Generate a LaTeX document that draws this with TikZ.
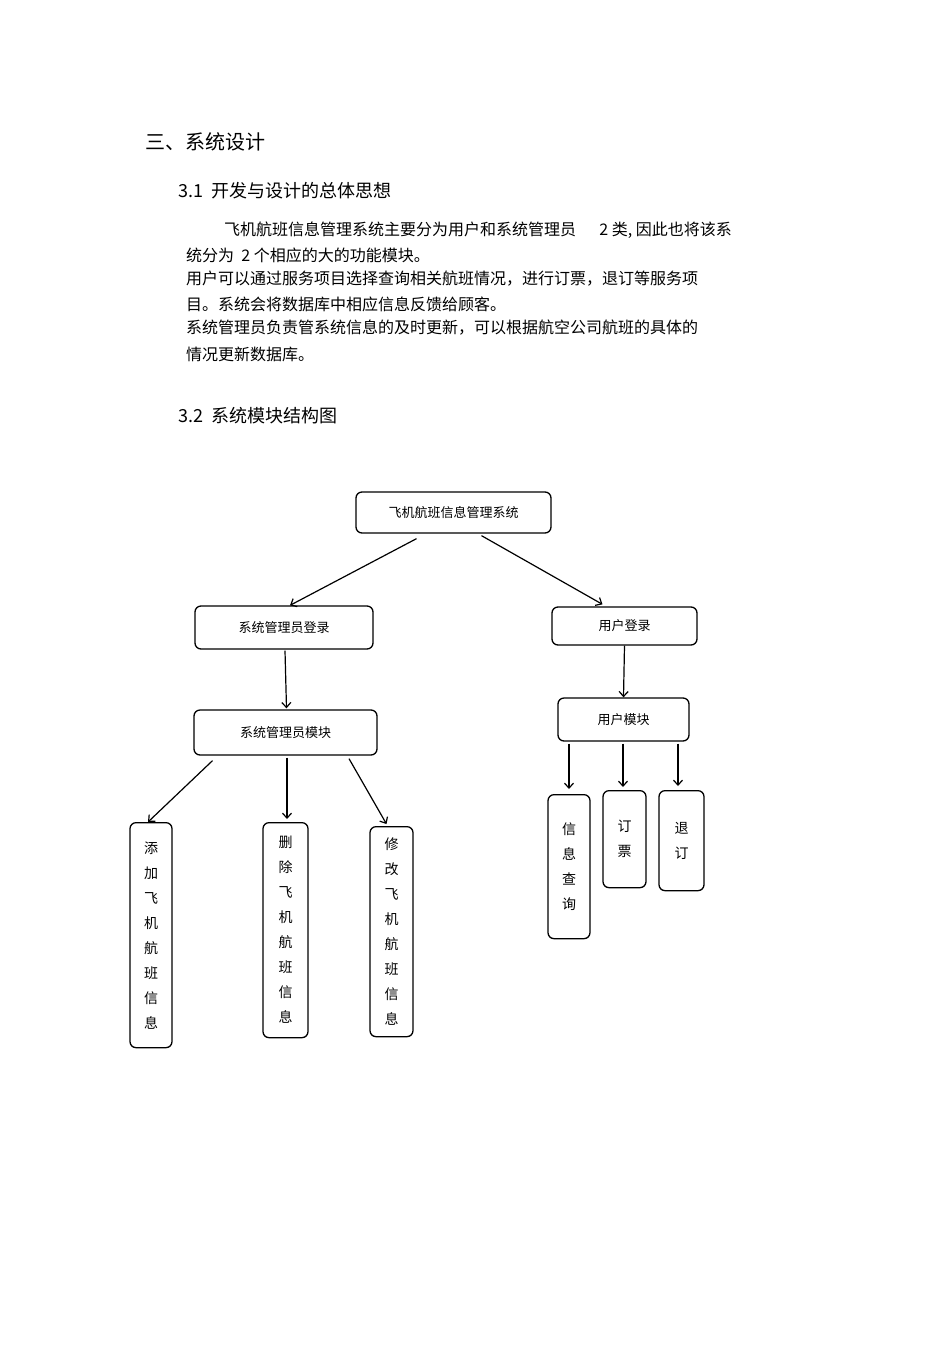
\documentclass[tikz,border=0pt]{standalone}
\usepackage{fontspec}
\setmainfont{Noto Sans CJK SC}
\usetikzlibrary{calc,arrows.meta}
\begin{document}
\begin{tikzpicture}[x=1pt,y=-1pt,
 box/.style={draw,line width=1.3pt,rounded corners=6pt,inner sep=0pt,font=\fontsize{13}{13}\selectfont},
 vbox/.style={box,font=\fontsize{14}{25}\selectfont,align=center,anchor=north},
 txt/.style={anchor=west,inner sep=0pt,font=\fontsize{16}{16}\selectfont},
 arr/.style={line width=1.2pt,-{Straight Barb[length=5pt,width=9pt]}}]
\useasboundingbox (0,0) rectangle (950,1345);
\node[txt,font=\fontsize{20}{20}\selectfont] (h1) at (145,142) {三、系统设计};
\node[txt,font=\fontsize{18}{18}\selectfont] (h2) at (178,191) {3.1\ \ 开发与设计的总体思想};
\node[txt] (p1) at (224,230) {飞机航班信息管理系统主要分为用户和系统管理员\quad\ \ 2 类, 因此也将该系};
\node[txt] (p2) at (186,255) {统分为\ \ 2 个相应的大的功能模块。};
\node[txt] (p3) at (186,279) {用户可以通过服务项目选择查询相关航班情况，进行订票，退订等服务项};
\node[txt] (p4) at (186,304) {目。系统会将数据库中相应信息反馈给顾客。};
\node[txt] (p5) at (186,328) {系统管理员负责管系统信息的及时更新，可以根据航空公司航班的具体的};
\node[txt] (p6) at (186,354) {情况更新数据库。};
\node[txt,font=\fontsize{18}{18}\selectfont] (h3) at (178,416) {3.2\ \ 系统模块结构图};

\node[box,minimum width=195pt,minimum height=41pt] (top) at (453.5,512.5) {飞机航班信息管理系统};
\node[box,minimum width=178pt,minimum height=43pt] (al) at (284,627.5) {系统管理员登录};
\node[box,minimum width=145pt,minimum height=38pt] (ul) at (624.5,626) {用户登录};
\node[box,minimum width=183pt,minimum height=45pt] (am) at (285.5,732.5) {系统管理员模块};
\node[box,minimum width=131pt,minimum height=43pt] (um) at (623.5,719.5) {用户模块};

\node[vbox,minimum width=42pt,minimum height=225pt] (v1) at (151,822) {添\\加\\飞\\机\\航\\班\\信\\息};
\node[vbox,minimum width=45pt,minimum height=215pt] (v2) at (285.5,822) {删\\除\\飞\\机\\航\\班\\信\\息};
\node[vbox,minimum width=43pt,minimum height=210pt] (v3) at (391.5,826) {修\\改\\飞\\机\\航\\班\\信\\息};
\node[vbox,minimum width=42pt,minimum height=144pt] (u1) at (569,794) {信\\息\\查\\询};
\node[vbox,minimum width=43pt,minimum height=97pt] (u2) at (624.5,790) {订\\票};
\node[vbox,minimum width=45pt,minimum height=100pt] (u3) at (681.5,790) {退\\订};

\draw[arr] ($(top.south)+(-37,5)$) -- ($(al.north)+(6,0)$);
\draw[arr] ($(top.south)+(28,2)$) -- ($(ul.north)+(-22,-2)$);
\draw[arr] ($(al.south)+(1,1)$) -- ($(am.north)+(1,-1)$);
\draw[arr] (ul.south) -- (um.north);
\draw[arr] ($(am.south)+(-73,5)$) -- ($(v1.north)+(-3,0)$);
\draw[arr] ($(am.south)+(1.5,2)$) -- ($(v2.north)+(1.5,-3)$);
\draw[arr] ($(am.south)+(63.5,3)$) -- ($(v3.north)+(-5,-2)$);
\draw[arr] ($(um.south)+(-54.5,2)$) -- ($(u1.north)+(0,-5)$);
\draw[arr] ($(um.south)+(-0.5,2)$) -- ($(u2.north)+(-1.5,-3)$);
\draw[arr] ($(um.south)+(54.5,2)$) -- ($(u3.north)+(-3.5,-4)$);
\end{tikzpicture}
\end{document}
